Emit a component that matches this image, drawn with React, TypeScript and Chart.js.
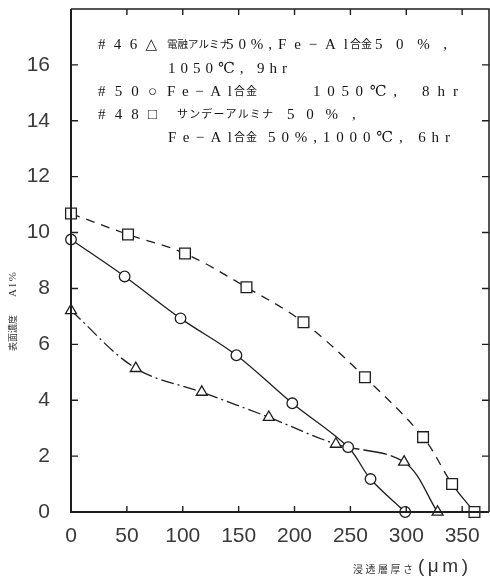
import React, { useEffect, useRef } from 'react';
import { Chart, registerables } from 'chart.js';
Chart.register(...registerables);

// ---- data ----
const xTickValues = [0, 50, 100, 150, 200, 250, 300, 350];
const yTickValues = [0, 2, 4, 6, 8, 10, 12, 14, 16];

const squareX = [0, 51, 102, 157, 208, 263, 315, 341, 361];
const squareY = [10.68, 9.93, 9.25, 8.04, 6.79, 4.82, 2.68, 1.0, 0];

const circleX = [0, 48, 98, 148, 198, 248, 268, 299];
const circleY = [9.75, 8.43, 6.93, 5.61, 3.89, 2.32, 1.18, 0];

const triangleX = [0, 58, 117, 177, 237, 298, 328];
const triangleY = [7.21, 5.14, 4.29, 3.39, 2.43, 1.79, 0];

const yTitleTop = 'Al%';
const yTitleBottom = '表面濃度';
const xTitleJa = '浸透層厚さ';
const xTitleUnit = '(μm)';

// annotation text segments: [text, x0, x1, y, size]
const noteSegments: [string, number, number, number, number][] = [
  ['#46△', 98, 157, 45, 15],
  ['電融アルミナ', 167, 219, 45, 10.5],
  ['50%,', 226, 272, 45, 15],
  ['Fe−Al', 278, 348, 45, 15],
  ['合金', 350, 372, 45, 11],
  ['50%,', 375, 447, 45, 15],
  ['1050℃, 9hr', 168, 287, 69, 15],
  ['#50○', 98, 157, 92, 15],
  ['Fe−Al', 167, 232, 92, 15],
  ['合金', 234, 257, 92, 11],
  ['1050℃,', 313, 397, 92, 15],
  ['8hr', 422, 458, 92, 15],
  ['#48□', 98, 157, 115, 15],
  ['サンデーアルミナ', 177, 273, 115, 11],
  ['50%', 287, 338, 115, 15],
  [',', 352, 358, 115, 15],
  ['Fe−Al', 168, 232, 138, 15],
  ['合金', 234, 257, 138, 11],
  ['50%,1000℃, 6hr', 268, 450, 138, 15],
];

const INK = '#1e1e1e';

function fitText(ctx: any, text: string, x0: number, x1: number, y: number) {
  const chars = Array.from(text);
  ctx.letterSpacing = '0px';
  const w = ctx.measureText(text).width;
  const n = chars.length;
  const ls = n > 1 ? Math.max(0, (x1 - x0 - w) / (n - 1)) : 0;
  if ('letterSpacing' in ctx) {
    ctx.letterSpacing = ls + 'px';
    ctx.fillText(text, x0, y);
    ctx.letterSpacing = '0px';
  } else {
    let cx = x0;
    for (const c of chars) {
      ctx.fillText(c, cx, y);
      cx += ctx.measureText(c).width + ls;
    }
  }
}

const framePlugin = {
  id: 'frameTicks',
  afterDatasetsDraw(chart: any) {
    const { ctx, chartArea: a, scales } = chart;
    const xs = scales.x;
    const ys = scales.y;
    ctx.save();
    ctx.strokeStyle = INK;
    ctx.lineWidth = 1.4;
    ctx.beginPath();
    for (const v of xTickValues) {
      if (v === 0) continue;
      const px = xs.getPixelForValue(v);
      ctx.moveTo(px, a.bottom);
      ctx.lineTo(px, a.bottom - 6);
      ctx.moveTo(px, a.top);
      ctx.lineTo(px, a.top + 6);
    }
    for (const v of yTickValues) {
      if (v === 0) continue;
      const py = ys.getPixelForValue(v);
      ctx.moveTo(a.left, py);
      ctx.lineTo(a.left + 7, py);
      ctx.moveTo(a.right, py);
      ctx.lineTo(a.right - 7, py);
    }
    ctx.stroke();
    ctx.lineWidth = 2;
    ctx.beginPath();
    ctx.moveTo(a.left, a.top);
    ctx.lineTo(a.left, a.bottom);
    ctx.lineTo(a.right, a.bottom);
    ctx.stroke();
    ctx.lineWidth = 1.5;
    ctx.beginPath();
    ctx.moveTo(a.left, a.top);
    ctx.lineTo(a.right, a.top);
    ctx.lineTo(a.right, a.bottom);
    ctx.stroke();
    ctx.restore();
  },
  afterDraw(chart: any) {
    const { ctx } = chart;
    ctx.save();
    ctx.fillStyle = '#151515';
    ctx.textBaseline = 'middle';
    ctx.textAlign = 'left';
    for (const [t, x0, x1, y, s] of noteSegments) {
      ctx.font = `${s}px "Liberation Serif", "DejaVu Serif", "Noto Sans CJK JP", serif`;
      fitText(ctx, t, x0, x1, y);
    }
    // y axis title (rotated)
    ctx.fillStyle = '#333';
    ctx.save();
    ctx.translate(13, 0);
    ctx.rotate(-Math.PI / 2);
    ctx.textAlign = 'left';
    ctx.font = '9px "Noto Sans CJK JP", sans-serif';
    fitText(ctx, yTitleBottom, -351, -320, 0);
    ctx.font = '11px "Liberation Serif", serif';
    fitText(ctx, yTitleTop, -297, -272, 0);
    ctx.restore();
    // x axis title
    ctx.font = '10px "Noto Sans CJK JP", sans-serif';
    fitText(ctx, xTitleJa, 353, 413, 569);
    ctx.font = '19px "Liberation Sans", Arial, sans-serif';
    fitText(ctx, xTitleUnit, 418, 468, 567);
    ctx.restore();
  },
};

export default function App() {
  const ref = useRef<HTMLCanvasElement>(null);
  useEffect(() => {
    const mk = (xs: number[], ys: number[]) => xs.map((x, i) => ({ x, y: ys[i] }));
    const common = {
      borderColor: INK,
      borderWidth: 1.3,
      pointBorderColor: INK,
      pointBackgroundColor: '#fff',
      pointBorderWidth: 1.3,
      fill: false,
      tension: 0.35,
      clip: false as any,
    };
    const chart = new Chart(ref.current!, {
      type: 'line',
      data: {
        datasets: [
          {
            ...common,
            label: '#48',
            data: mk(squareX, squareY),
            pointStyle: 'rect',
            pointRadius: 7.6,
            segment: { borderDash: (c: any) => (c.p0DataIndex >= 7 ? [] : [9, 7]) },
          },
          {
            ...common,
            label: '#50',
            data: mk(circleX, circleY),
            pointStyle: 'circle',
            pointRadius: 5.3,
          },
          {
            ...common,
            label: '#46',
            data: mk(triangleX, triangleY),
            pointStyle: 'triangle',
            pointRadius: 6.3,
            segment: {
              borderDash: (c: any) => (c.p0DataIndex < 4 ? [13, 4, 2, 4] : c.p0DataIndex === 4 ? [24, 4] : []),
            },
          },
        ] as any,
      },
      options: {
        animation: false,
        responsive: false,
        events: [],
        layout: { autoPadding: false, padding: { top: 9, right: 1, left: 0, bottom: 0 } },
        plugins: { legend: { display: false }, tooltip: { enabled: false }, title: { display: false } },
        scales: {
          x: {
            type: 'linear',
            min: 0,
            max: 374,
            afterFit: (s: any) => {
              s.height = 67;
              s.paddingLeft = 0;
              s.paddingRight = 0;
            },
            afterBuildTicks: (s: any) => { s.ticks = xTickValues.map((v) => ({ value: v })); },
            grid: { display: false, drawTicks: false },
            border: { display: false },
            ticks: {
              padding: 12,
              color: '#3a3a3a',
              font: { family: '"Liberation Sans", Arial, sans-serif', size: 21 },
              maxRotation: 0,
              autoSkip: false,
            },
          },
          y: {
            type: 'linear',
            min: 0,
            max: 18,
            afterFit: (s: any) => {
              s.width = 71;
              s.paddingTop = 0;
              s.paddingBottom = 0;
            },
            afterBuildTicks: (s: any) => { s.ticks = yTickValues.map((v) => ({ value: v })); },
            grid: { display: false, drawTicks: false },
            border: { display: false },
            ticks: {
              padding: 21,
              color: '#3a3a3a',
              font: { family: '"Liberation Sans", Arial, sans-serif', size: 21 },
              autoSkip: false,
            },
          },
        },
      },
      plugins: [framePlugin],
    } as any);
    return () => chart.destroy();
  }, []);
  return (
    <div style={{ position: 'absolute', left: 0, top: 0, width: 490, height: 579, background: '#fff' }}>
      <canvas ref={ref} width={490} height={579} style={{ display: 'block' }} />
    </div>
  );
}
